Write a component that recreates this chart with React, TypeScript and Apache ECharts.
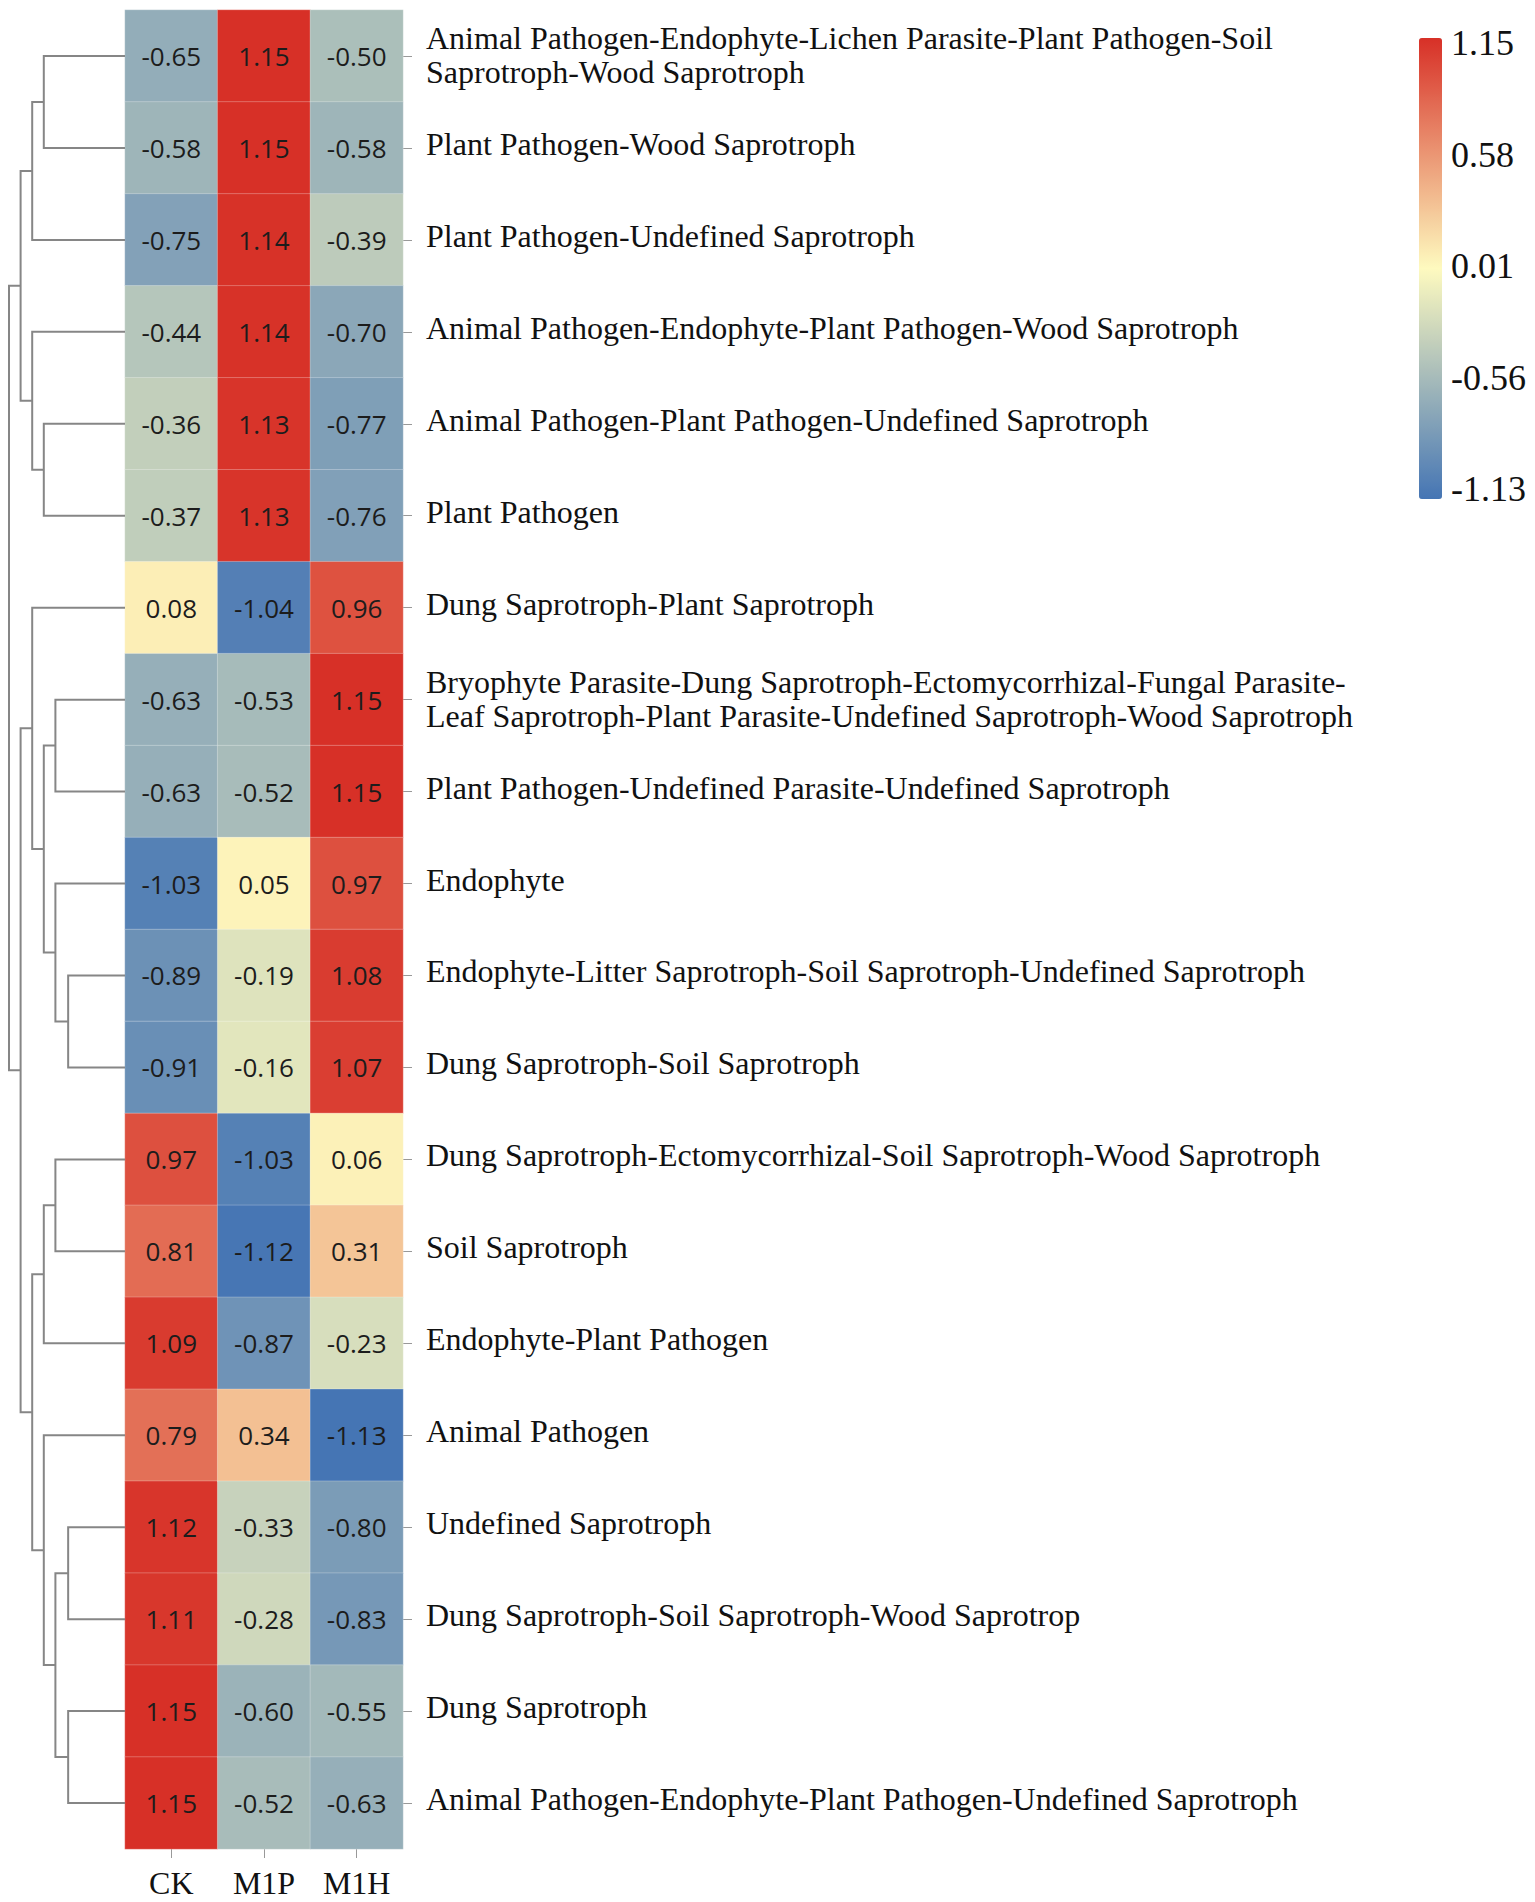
import React, { useEffect, useRef } from 'react';
import * as echarts from 'echarts';

const columns = ['CK', 'M1P', 'M1H'];
const rowLabels = [
  'Animal Pathogen-Endophyte-Lichen Parasite-Plant Pathogen-Soil\nSaprotroph-Wood Saprotroph',
  'Plant Pathogen-Wood Saprotroph',
  'Plant Pathogen-Undefined Saprotroph',
  'Animal Pathogen-Endophyte-Plant Pathogen-Wood Saprotroph',
  'Animal Pathogen-Plant Pathogen-Undefined Saprotroph',
  'Plant Pathogen',
  'Dung Saprotroph-Plant Saprotroph',
  'Bryophyte Parasite-Dung Saprotroph-Ectomycorrhizal-Fungal Parasite-\nLeaf Saprotroph-Plant Parasite-Undefined Saprotroph-Wood Saprotroph',
  'Plant Pathogen-Undefined Parasite-Undefined Saprotroph',
  'Endophyte',
  'Endophyte-Litter Saprotroph-Soil Saprotroph-Undefined Saprotroph',
  'Dung Saprotroph-Soil Saprotroph',
  'Dung Saprotroph-Ectomycorrhizal-Soil Saprotroph-Wood Saprotroph',
  'Soil Saprotroph',
  'Endophyte-Plant Pathogen',
  'Animal Pathogen',
  'Undefined Saprotroph',
  'Dung Saprotroph-Soil Saprotroph-Wood Saprotrop',
  'Dung Saprotroph',
  'Animal Pathogen-Endophyte-Plant Pathogen-Undefined Saprotroph',
];
const ckValues = [-0.65, -0.58, -0.75, -0.44, -0.36, -0.37, 0.08, -0.63, -0.63, -1.03, -0.89, -0.91, 0.97, 0.81, 1.09, 0.79, 1.12, 1.11, 1.15, 1.15];
const m1pValues = [1.15, 1.15, 1.14, 1.14, 1.13, 1.13, -1.04, -0.53, -0.52, 0.05, -0.19, -0.16, -1.03, -1.12, -0.87, 0.34, -0.33, -0.28, -0.60, -0.52];
const m1hValues = [-0.50, -0.58, -0.39, -0.70, -0.77, -0.76, 0.96, 1.15, 1.15, 0.97, 1.08, 1.07, 0.06, 0.31, -0.23, -1.13, -0.80, -0.83, -0.55, -0.63];
const colorbarTicks = ['-1.13', '-0.56', '0.01', '0.58', '1.15'];
const colorMin = -1.13;
const colorMax = 1.15;

// dendrogram merges: [childA, childB, height]; leaves are 0..19, merge k creates node 20+k
const merges: [number, number, number][] = [
  [0, 1, 0.70],
  [20, 2, 0.80],
  [4, 5, 0.70],
  [3, 22, 0.80],
  [21, 23, 0.90],
  [7, 8, 0.60],
  [10, 11, 0.49],
  [9, 26, 0.60],
  [25, 27, 0.70],
  [6, 28, 0.80],
  [12, 13, 0.60],
  [30, 14, 0.70],
  [16, 17, 0.49],
  [18, 19, 0.49],
  [32, 33, 0.60],
  [15, 34, 0.70],
  [31, 35, 0.80],
  [29, 36, 0.90],
  [24, 37, 1.0],
];

const serif = '"Liberation Serif", "Times New Roman", serif';

export default function App() {
  const ref = useRef<HTMLDivElement>(null);
  useEffect(() => {
    document.body.style.margin = '0';
    if (!ref.current) return;
    const chart = echarts.init(ref.current, undefined, { renderer: 'svg' });

    const colsData = [ckValues, m1pValues, m1hValues];
    const heatData: [number, number, number][] = [];
    colsData.forEach((vals, ci) => vals.forEach((v, ri) => heatData.push([ci, ri, v])));

    const nodeY: number[] = rowLabels.map((_, i) => i);
    const nodeH: number[] = rowLabels.map(() => 0);
    const segs: number[][][] = [];
    merges.forEach(([a, b, h]) => {
      const ya = nodeY[a];
      const yb = nodeY[b];
      segs.push([[nodeH[a], ya], [h, ya], [h, yb], [nodeH[b], yb]]);
      nodeY.push((ya + yb) / 2);
      nodeH.push(h);
    });

    const labelFormatter = (value: string) =>
      value.includes('\n')
        ? '{s| }\n' + value.split('\n').map((l) => `{t|${l}}`).join('\n')
        : `{t|${value}}`;

    chart.setOption({
      animation: false,
      grid: [
        { left: 125, top: 10, width: 278, height: 1839 },
        { left: 9, top: 10, width: 116, height: 1839 },
        { left: 1442, top: 43, width: 1, height: 446 },
        { left: 125, top: 6, width: 278, height: 1839 },
      ],
      xAxis: [
        {
          type: 'category', gridIndex: 0, data: columns, position: 'bottom',
          axisLine: { show: false },
          axisTick: { show: true, length: 9, alignWithLabel: true, lineStyle: { color: '#999' } },
          axisLabel: { margin: 18, fontFamily: serif, fontSize: 32, color: '#111', interval: 0 },
          splitLine: { show: false },
        },
        { type: 'value', gridIndex: 1, min: 0, max: 1, inverse: true, show: false },
        { type: 'value', gridIndex: 2, show: false },
        { type: 'category', gridIndex: 3, data: columns, show: false },
      ],
      yAxis: [
        {
          type: 'category', gridIndex: 0, data: rowLabels, inverse: true, position: 'right',
          axisLine: { show: false },
          axisTick: { show: true, length: 9, alignWithLabel: true, lineStyle: { color: '#999' } },
          axisLabel: { show: false },
          splitLine: { show: false },
        },
        { type: 'value', gridIndex: 1, min: -0.5, max: 19.5, inverse: true, show: false },
        {
          type: 'category', gridIndex: 2, data: colorbarTicks, boundaryGap: false, position: 'right',
          axisLine: { show: false }, axisTick: { show: false }, splitLine: { show: false },
          axisLabel: { margin: 8, fontFamily: serif, fontSize: 36, color: '#111', interval: 0 },
        },
        {
          type: 'category', gridIndex: 3, data: rowLabels, inverse: true, position: 'right',
          axisLine: { show: false }, axisTick: { show: false }, splitLine: { show: false },
          axisLabel: {
            margin: 23, interval: 0, formatter: labelFormatter,
            rich: {
              t: { fontFamily: serif, fontSize: 32, lineHeight: 34, color: '#111' },
              s: { fontFamily: serif, fontSize: 1, lineHeight: 6 },
            },
          },
        },
      ],
      visualMap: {
        type: 'continuous', min: colorMin, max: colorMax, seriesIndex: 0, dimension: 2,
        calculable: false, orient: 'vertical', left: 1419, top: 38, itemWidth: 23, itemHeight: 461,
        padding: 0, inRange: { color: ['#4575b4', '#fefabf', '#d73027'] },
      },
      series: [
        {
          type: 'heatmap', xAxisIndex: 0, yAxisIndex: 0, data: heatData,
          itemStyle: { borderColor: 'rgba(255,255,255,0.25)', borderWidth: 1 },
          label: {
            show: true, fontFamily: '"Open Sans", "Noto Sans", sans-serif', fontSize: 26, color: '#1c1c1c',
            formatter: (p: any) => Number(p.value[2]).toFixed(2),
          },
          emphasis: { disabled: true },
        },
        {
          type: 'lines', coordinateSystem: 'cartesian2d', xAxisIndex: 1, yAxisIndex: 1, polyline: true,
          data: segs.map((c) => ({ coords: c })),
          lineStyle: { color: '#868686', width: 2, opacity: 1 },
          silent: true,
        },
      ],
    });
    return () => chart.dispose();
  }, []);
  return <div ref={ref} style={{ width: 1535, height: 1902, position: 'absolute', left: 0, top: 0 }} />;
}
